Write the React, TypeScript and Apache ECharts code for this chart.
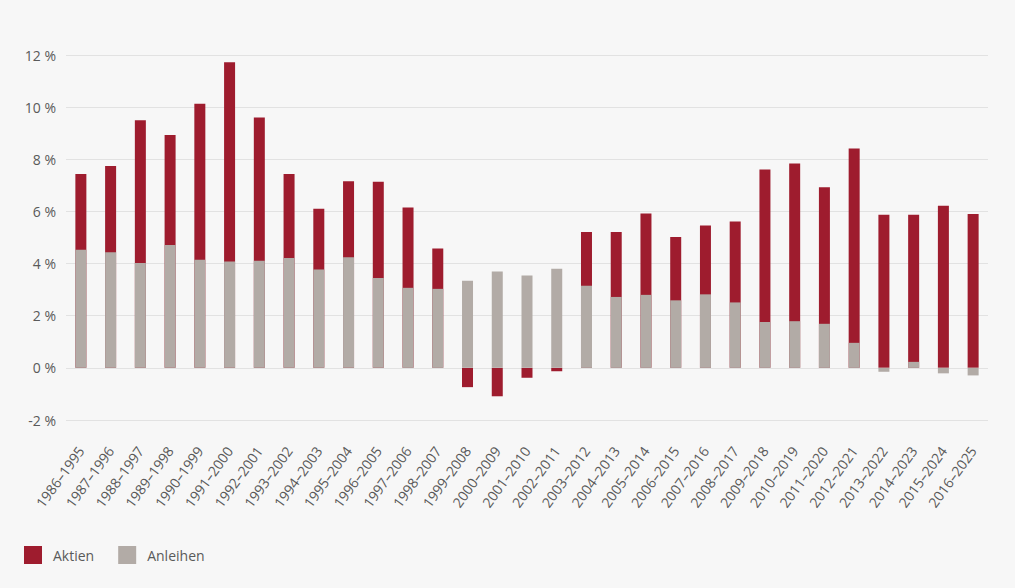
import React, { useEffect, useRef } from "react";
import * as echarts from "echarts";

const periods = [
  "1986–1995", "1987–1996", "1988–1997", "1989–1998", "1990–1999", "1991–2000",
  "1992–2001", "1993–2002", "1994–2003", "1995–2004", "1996–2005", "1997–2006",
  "1998–2007", "1999–2008", "2000–2009", "2001–2010", "2002–2011", "2003–2012",
  "2004–2013", "2005–2014", "2006–2015", "2007–2016", "2008–2017", "2009–2018",
  "2010–2019", "2011–2020", "2012–2021", "2013–2022", "2014–2023", "2015–2024",
  "2016–2025",
];

const aktien = [
  7.44, 7.74, 9.5, 8.93, 10.13, 11.72, 9.6, 7.44, 6.1, 7.16, 7.14, 6.15, 4.58,
  -0.74, -1.09, -0.38, -0.13, 5.21, 5.21, 5.92, 5.02, 5.46, 5.61, 7.61, 7.84,
  6.93, 8.41, 5.87, 5.87, 6.22, 5.9,
];

const anleihen = [
  4.53, 4.43, 4.02, 4.71, 4.15, 4.08, 4.11, 4.21, 3.77, 4.24, 3.45, 3.07, 3.03,
  3.34, 3.7, 3.54, 3.8, 3.15, 2.72, 2.8, 2.59, 2.82, 2.51, 1.76, 1.79, 1.69, 0.96,
  -0.15, 0.23, -0.21, -0.29,
];

const RED = "#9e1c2e";
const GREY = "#b2aba6";
const TEXT = "#5a5a5a";
const FONT = "'Open Sans', Lato, sans-serif";

const RenditeChart: React.FC = () => {
  const chartRef = useRef<HTMLDivElement | null>(null);

  useEffect(() => {
    if (!chartRef.current) return;
    const chart = echarts.init(chartRef.current, undefined, { renderer: "svg" });

    chart.setOption({
      animation: false,
      backgroundColor: "#f7f7f7",
      textStyle: { fontFamily: FONT },
      grid: { left: 66, right: 27, top: 55, bottom: 168 },
      legend: {
        left: 24,
        top: 546,
        padding: 0,
        itemWidth: 18,
        itemHeight: 18,
        itemGap: 24,
        icon: "rect",
        textStyle: { color: TEXT, fontSize: 14, fontFamily: FONT, padding: [0, 0, 0, 6] },
        data: ["Aktien", "Anleihen"],
      },
      xAxis: {
        type: "category",
        data: periods,
        axisLine: { show: false },
        axisTick: { show: false },
        axisLabel: {
          rotate: 54,
          margin: 28,
          color: TEXT,
          fontSize: 14,
          fontFamily: FONT,
          interval: 0,
        },
      },
      yAxis: {
        type: "value",
        min: -2,
        max: 12,
        interval: 2,
        axisLine: { show: false },
        axisTick: { show: false },
        axisLabel: {
          formatter: "{value} %",
          margin: 10,
          color: TEXT,
          fontSize: 14,
          fontFamily: FONT,
        },
        splitLine: { lineStyle: { color: "#e2e2e2", width: 1 } },
      },
      series: [
        {
          name: "Aktien",
          type: "bar",
          data: aktien,
          barWidth: 11,
          barGap: "-100%",
          itemStyle: { color: RED },
        },
        {
          name: "Anleihen",
          type: "bar",
          data: anleihen,
          barWidth: 11,
          barGap: "-100%",
          itemStyle: { color: GREY },
        },
      ],
    });

    return () => {
      chart.dispose();
    };
  }, []);

  return <div ref={chartRef} style={{ width: "1015px", height: "588px" }} />;
};

export default function App() {
  useEffect(() => {
    document.body.style.margin = "0";
    document.body.style.background = "#f7f7f7";
  }, []);
  return <RenditeChart />;
}
